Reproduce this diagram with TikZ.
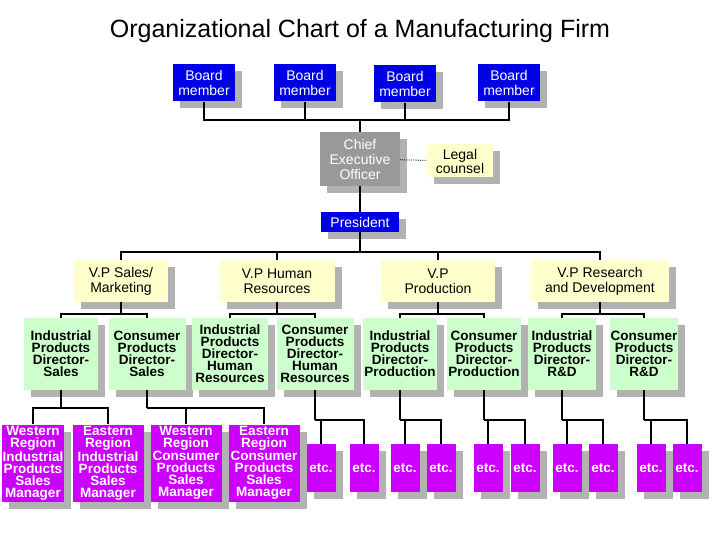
\documentclass[tikz,border=0pt]{standalone}
\usepackage{fontspec}
\setmainfont{Liberation Sans}
\usetikzlibrary{shadows}
\definecolor{boardblue}{RGB}{0,0,230}
\definecolor{mgrviolet}{RGB}{204,0,255}
\definecolor{vpyellow}{RGB}{255,255,204}
\definecolor{dirgreen}{RGB}{204,255,204}
\tikzset{
  box/.style={rectangle, align=center, inner sep=1pt, font=\fontsize{13.5}{12}\selectfont\bfseries,
    drop shadow={shadow xshift=7pt, shadow yshift=-7pt, fill=black!30, opacity=1}},
  board/.style={box, fill=boardblue, text=white, minimum width=62pt, minimum height=37pt,
    font=\fontsize{14}{15}\selectfont},
  vp/.style={box, fill=vpyellow, minimum height=42pt, font=\fontsize{14}{15}\selectfont},
  dir/.style={box, fill=dirgreen, minimum height=72pt},
  mgr/.style={box, fill=mgrviolet, text=white, minimum height=77pt},
  etc/.style={box, fill=mgrviolet, text=white, minimum width=29pt, minimum height=48pt},
  link/.style={line width=1.6pt}
}
\begin{document}
\begin{tikzpicture}[x=1pt, y=-1pt]
  \useasboundingbox (0,0) rectangle (720,540);
  \node[font=\fontsize{25}{27}\selectfont] (title) at (360,31) {Organizational Chart of a Manufacturing Firm};
  % board
  \node[board] (b1) at (204,83) {Board\\member};
  \node[board] (b2) at (305,83) {Board\\member};
  \node[board] (b3) at (405,84) {Board\\member};
  \node[board] (b4) at (509,83) {Board\\member};
  \coordinate (bbus) at (360,120);
  \foreach \b in {b1,b2,b3,b4}
    \draw[link] (\b.south) |- (bbus);
  \node[box, fill=black!40, text=white, minimum width=80pt, minimum height=54pt,
    font=\fontsize{14}{15}\selectfont] (ceo) at (360,159) {Chief\\Executive\\Officer};
  \node[box, fill=vpyellow, minimum width=66pt, minimum height=33pt,
    font=\fontsize{14}{14}\selectfont] (legal) at (460,161) {Legal\\counsel};
  \draw[link] (bbus) -- (ceo.north);
  \draw[densely dotted, thick] (ceo) -- (legal);
  \node[box, fill=boardblue, text=white, minimum width=78pt, minimum height=20pt,
    font=\fontsize{14}{15}\selectfont] (pres) at (360,222) {President};
  \draw[link] (ceo) -- (pres);
  % vice presidents
  \node[vp, minimum width=94pt] (vps) at (121,281) {V.P Sales/\\Marketing};
  \node[vp, minimum width=115pt] (vph) at (277,281) {V.P Human\\Resources};
  \node[vp, minimum width=114pt] (vpp) at (438,281) {V.P\\Production};
  \node[vp, minimum width=138pt] (vpr) at (600,281) {V.P Research\\and Development};
  \coordinate (vbus) at (360,252);
  \draw[link] (pres) -- (vbus);
  \foreach \v in {vps,vph,vpp,vpr}
    \draw[link] (\v.north) |- (vbus);
  % directors
  \node[dir, minimum width=74pt] (d1) at (61,354) {Industrial\\Products\\Director-\\Sales};
  \node[dir, minimum width=77pt] (d2) at (147,354) {Consumer\\Products\\Director-\\Sales};
  \node[dir, minimum width=76pt] (d3) at (230,354) {Industrial\\Products\\Director-\\Human\\Resources};
  \node[dir, minimum width=77pt] (d4) at (315,354) {Consumer\\Products\\Director-\\Human\\Resources};
  \node[dir, minimum width=74pt] (d5) at (400,354) {Industrial\\Products\\Director-\\Production};
  \node[dir, minimum width=74pt] (d6) at (484,354) {Consumer\\Products\\Director-\\Production};
  \node[dir, minimum width=68pt] (d7) at (562,354) {Industrial\\Products\\Director-\\R\&D};
  \node[dir, minimum width=68pt] (d8) at (644,354) {Consumer\\Products\\Director-\\R\&D};
  \foreach \v/\l/\r in {vps/d1/d2,vph/d3/d4,vpp/d5/d6,vpr/d7/d8} {
    \draw[link] (\v.south) -- ++(0,12) coordinate (\v-j);
    \draw[link] (\l.north) |- (\v-j) -| (\r.north);
  }
  % managers
  \node[mgr, minimum width=62pt] (m1) at (33,463) {Western\\Region\\Industrial\\Products\\Sales\\Manager};
  \node[mgr, minimum width=71pt] (m2) at (108,463) {Eastern\\Region\\Industrial\\Products\\Sales\\Manager};
  \node[mgr, minimum width=71pt] (m3) at (186,463) {Western\\Region\\Consumer\\Products\\Sales\\Manager};
  \node[mgr, minimum width=71pt] (m4) at (264,463) {Eastern\\Region\\Consumer\\Products\\Sales\\Manager};
  \foreach \x [count=\i] in {321,364,405,441,488,525,567,603,651,687}
    \node[etc] (e\i) at (\x,468) {etc.};
  \foreach \d/\y in {d1/408,d2/408,d3/420,d4/420,d5/420,d6/420,d7/420,d8/420} {
    \coordinate (\d-j) at (\d.south |- 0,\y);
  }
  \foreach \d in {d1,d2,d4,d5,d6,d7,d8}
    \draw[link] (\d.south) -- (\d-j);
  \draw[link] (m1.north) |- (d1-j) -| (m2.north);
  \draw[link] (m3.north) |- (d2-j) -| (m4.north);
  \draw[link] (e1.north) |- (d4-j) -| (e2.north);
  \draw[link] (e3.north) |- (d5-j) -| (e4.north);
  \draw[link] (e5.north) |- (d6-j) -| (e6.north);
  \draw[link] (e7.north) |- (d7-j) -| (e8.north);
  \draw[link] (e9.north) |- (d8-j) -| (e10.north);
\end{tikzpicture}
\end{document}
